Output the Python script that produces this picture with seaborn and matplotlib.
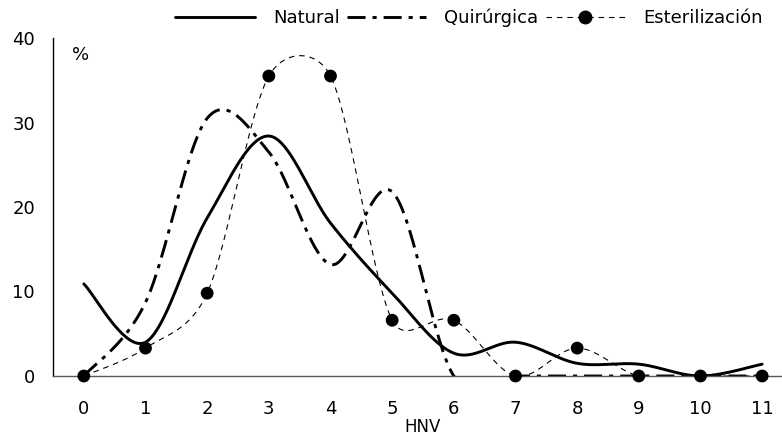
import numpy as np
import matplotlib
matplotlib.use("Agg")
import matplotlib.pyplot as plt
from matplotlib.lines import Line2D
import seaborn as sns

# data (% per HNV)
hnv = list(range(12))
natural = [10.9, 4.0, 18.7, 28.4, 18.1, 9.8, 2.7, 4.0, 1.5, 1.4, 0.0, 1.4]
quirurgica = [0.0, 8.7, 30.5, 26.5, 13.2, 21.8, 0.0, 0.0, 0.0, 0.0, 0.0, 0.0]
esterilizacion = [0.0, 3.3, 9.8, 35.5, 35.5, 6.6, 6.6, 0.0, 3.3, 0.0, 0.0, 0.0]
y_ticks = [0, 10, 20, 30, 40]

sns.set_style("white")
plt.rcParams["font.family"] = ["DejaVu Sans"]
plt.rcParams["lines.scale_dashes"] = False
plt.rcParams["text.color"] = "black"
plt.rcParams["xtick.color"] = "black"
plt.rcParams["ytick.color"] = "black"
plt.rcParams["axes.labelcolor"] = "black"

fig = plt.figure(figsize=(7.82, 4.43), dpi=100)
ax = fig.add_axes([53 / 782, 67 / 443, 740 / 782, 338 / 443])
ax.set_xlim(-0.5, 11.5)
ax.set_ylim(0, 40)


# smoothed line like excel does it (bezier in screen space)
def smooth(x, y, n=40):
    pts = ax.transData.transform(np.column_stack([x, y]))
    out = [pts[0]]
    t = np.linspace(0, 1, n)[1:, None]
    for i in range(len(pts) - 1):
        p0 = pts[max(i - 1, 0)]
        p1 = pts[i]
        p2 = pts[i + 1]
        p3 = pts[min(i + 2, len(pts) - 1)]
        d12 = np.linalg.norm(p2 - p1)
        d02 = np.linalg.norm(p2 - p0)
        d13 = np.linalg.norm(p3 - p1)
        c1 = p1 + (p2 - p0) / d02 * min(d02 / 6, d12 / 2) if d02 > 0 else p1
        c2 = p2 - (p3 - p1) / d13 * min(d13 / 6, d12 / 2) if d13 > 0 else p2
        seg = ((1 - t) ** 3) * p1 + 3 * ((1 - t) ** 2) * t * c1 + 3 * (1 - t) * t ** 2 * c2 + t ** 3 * p2
        out.extend(seg)
    out = ax.transData.inverted().transform(np.array(out))
    return out[:, 0], out[:, 1]


dashdot = (0, (13, 5, 3, 5))
thin_dash = (0, (4, 3.5))

xs, ys = smooth(hnv, natural)
sns.lineplot(x=xs, y=ys, sort=False, estimator=None, color="black", linewidth=2.1, ax=ax)
xs, ys = smooth(hnv, quirurgica)
sns.lineplot(x=xs, y=ys, sort=False, estimator=None, color="black", linewidth=2.1,
             linestyle=dashdot, ax=ax)
xs, ys = smooth(hnv, esterilizacion)
sns.lineplot(x=xs, y=ys, sort=False, estimator=None, color="black", linewidth=0.8,
             linestyle=thin_dash, ax=ax)
sns.scatterplot(x=hnv, y=esterilizacion, color="black", s=85, edgecolor="none",
                clip_on=False, zorder=5, ax=ax)

ax.set_xticks(hnv)
ax.set_yticks(y_ticks)
ax.tick_params(axis="x", length=0, pad=17, labelsize=13)
ax.tick_params(axis="y", length=0, pad=13, labelsize=13)
ax.set_xlabel("HNV", fontsize=12, labelpad=0)
ax.set_ylabel("")
ax.text(-0.05, 38, "%", fontsize=13, ha="center", va="center")

for s in ["top", "right"]:
    ax.spines[s].set_visible(False)
ax.spines["left"].set_color("black")
ax.spines["left"].set_linewidth(1.0)
ax.spines["bottom"].set_color("#595959")
ax.spines["bottom"].set_linewidth(1.0)

handles = [
    Line2D([], [], color="black", linewidth=2.1, label="Natural"),
    Line2D([], [], color="black", linewidth=2.1, linestyle=dashdot, label="Quirúrgica"),
    Line2D([], [], color="black", linewidth=0.8, linestyle=thin_dash, marker="o",
           markersize=9, label="Esterilización"),
]
fig.legend(handles=handles, loc="center", bbox_to_anchor=(469 / 782, 1 - 18 / 443), ncol=3,
           frameon=False, fontsize=13, handlelength=4.4, handletextpad=1.0, columnspacing=0.4)

fig.savefig("out.png", dpi=100)
